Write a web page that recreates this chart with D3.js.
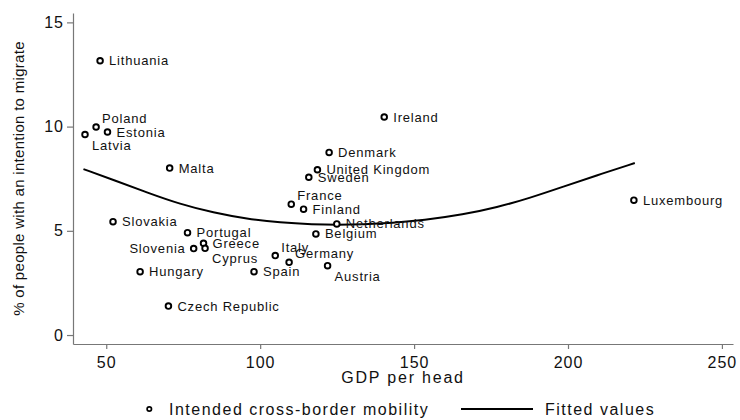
<!DOCTYPE html>
<html>
<head>
<meta charset="utf-8">
<script src="https://cdn.jsdelivr.net/npm/d3@7/dist/d3.min.js"></script>
<style>
  html, body { margin: 0; padding: 0; background: #fff; }
  svg { display: block; font-family: "Liberation Sans", Arial, Helvetica, sans-serif; }
</style>
</head>
<body>
<svg id="chart" width="740" height="420"></svg>
<script>
// Countries: GDP per head (EU = 100) vs share intending to migrate
const countries = ["Lithuania", "Poland", "Estonia", "Latvia", "Malta", "Slovakia", "Portugal",
  "Slovenia", "Greece", "Cyprus", "Hungary", "Czech Republic", "Spain", "Italy", "Germany",
  "Austria", "Belgium", "Netherlands", "France", "Finland", "Sweden", "United Kingdom",
  "Denmark", "Ireland", "Luxembourg"];
const gdpPerHead = [48.0, 46.7, 50.4, 43.1, 70.6, 52.2, 76.4,
  78.4, 81.6, 82.1, 61.0, 70.2, 98.0, 104.9, 109.4,
  121.9, 118.1, 124.9, 110.1, 114.1, 115.8, 118.6,
  122.4, 140.3, 221.4];
const migrationIntent = [13.16, 9.98, 9.74, 9.62, 8.01, 5.44, 4.91,
  4.15, 4.40, 4.16, 3.04, 1.39, 3.04, 3.81, 3.49,
  3.33, 4.85, 5.33, 6.28, 6.04, 7.57, 7.93,
  8.76, 10.46, 6.47];

// Fitted values (quadratic fit) along GDP per head
const fitGdp = [42.6, 52.4, 63.2, 74.0, 84.8, 95.7, 106.5, 117.3, 124.9, 133.5,
  143.0, 153.0, 166.0, 176.9, 187.7, 198.5, 209.3, 221.7];
const fitValues = [7.96, 7.44, 6.84, 6.28, 5.87, 5.57, 5.39, 5.31, 5.29, 5.31,
  5.38, 5.50, 5.78, 6.12, 6.58, 7.12, 7.66, 8.25];

const xTicks = [50, 100, 150, 200, 250];
const yTicks = [0, 5, 10, 15];

// Marker label placement, clock positions (default 3 o'clock)
const labelClock = {
  "Poland": 1, "Latvia": 5, "Slovenia": 9, "Cyprus": 5,
  "Italy": 1, "Germany": 1, "Austria": 5, "France": 1
};

const svg = d3.select("#chart");
const plotLeft = 73, plotRight = 733, plotTop = 13, plotBottom = 344;

const x = d3.scaleLinear().domain([39.2, 253.6]).range([plotLeft, plotRight]);
const y = d3.scaleLinear().domain([-0.43, 15.45]).range([plotBottom, plotTop]);

const axisColor = "#777";
const textColor = "#111";

// X axis
const gx = svg.append("g")
  .attr("transform", `translate(0,${plotBottom})`)
  .call(d3.axisBottom(x).tickValues(xTicks).tickSize(5).tickSizeOuter(0).tickPadding(8));
gx.attr("font-family", null).attr("font-size", null);
gx.select(".domain").attr("stroke", axisColor).attr("stroke-width", 1.2);
gx.selectAll(".tick line").attr("stroke", axisColor).attr("stroke-width", 1.2);
gx.selectAll(".tick text").attr("fill", textColor).attr("font-size", 16)
  .style("letter-spacing", "1px");

// Y axis
const gy = svg.append("g")
  .attr("transform", `translate(${plotLeft},0)`)
  .call(d3.axisLeft(y).tickValues(yTicks).tickSize(6).tickSizeOuter(0).tickPadding(3));
gy.attr("font-family", null).attr("font-size", null);
gy.select(".domain").attr("stroke", axisColor).attr("stroke-width", 1.2);
gy.selectAll(".tick line").attr("stroke", axisColor).attr("stroke-width", 1.2);
gy.selectAll(".tick text").attr("fill", textColor).attr("font-size", 16)
  .style("letter-spacing", "1px");

// Axis titles
svg.append("text")
  .attr("x", (plotLeft + plotRight) / 2).attr("y", 382.5)
  .attr("text-anchor", "middle").attr("font-size", 16).attr("fill", textColor)
  .style("letter-spacing", "1.8px")
  .text("GDP per head");

svg.append("text")
  .attr("transform", `translate(23.5,${(plotTop + plotBottom) / 2}) rotate(-90)`)
  .attr("text-anchor", "middle").attr("font-size", 15).attr("fill", textColor)
  .style("letter-spacing", "0.3px")
  .text("% of people with an intention to migrate");

// Fitted curve
const fitLine = d3.line()
  .x((d, i) => x(fitGdp[i]))
  .y(d => y(d))
  .curve(d3.curveBasis);
svg.append("path")
  .attr("d", fitLine(fitValues))
  .attr("fill", "none").attr("stroke", "#000").attr("stroke-width", 2);

// Points
const pts = countries.map((c, i) => ({ name: c, gdp: gdpPerHead[i], v: migrationIntent[i] }));

svg.append("g").selectAll("circle").data(pts).join("circle")
  .attr("cx", d => x(d.gdp)).attr("cy", d => y(d.v))
  .attr("r", 2.8).attr("fill", "#fff").attr("stroke", "#000").attr("stroke-width", 1.9);

const clockOffset = {
  3: { dx: 9, dy: 0, anchor: "start" },
  1: { dx: 6, dy: -8.5, anchor: "start" },
  5: { dx: 7, dy: 10.5, anchor: "start" },
  9: { dx: -8, dy: 0, anchor: "end" }
};

svg.append("g").selectAll("text").data(pts).join("text")
  .each(function (d) {
    const o = clockOffset[labelClock[d.name] || 3];
    d3.select(this)
      .attr("x", x(d.gdp) + o.dx)
      .attr("y", y(d.v) + o.dy)
      .attr("dy", "0.35em")
      .attr("text-anchor", o.anchor);
  })
  .attr("font-size", 13).attr("fill", textColor)
  .style("letter-spacing", "0.8px")
  .text(d => d.name);

// Legend
const legY = 409;
svg.append("circle").attr("cx", 149.3).attr("cy", legY).attr("r", 2.2)
  .attr("fill", "#fff").attr("stroke", "#000").attr("stroke-width", 1.7);
svg.append("text").attr("x", 169).attr("y", legY).attr("dy", "0.35em")
  .attr("font-size", 16).attr("fill", textColor).style("letter-spacing", "1.5px")
  .text("Intended cross-border mobility");
svg.append("line").attr("x1", 461).attr("x2", 533).attr("y1", legY).attr("y2", legY)
  .attr("stroke", "#000").attr("stroke-width", 2);
svg.append("text").attr("x", 545).attr("y", legY).attr("dy", "0.35em")
  .attr("font-size", 16).attr("fill", textColor).style("letter-spacing", "1.5px")
  .text("Fitted values");
</script>
</body>
</html>
